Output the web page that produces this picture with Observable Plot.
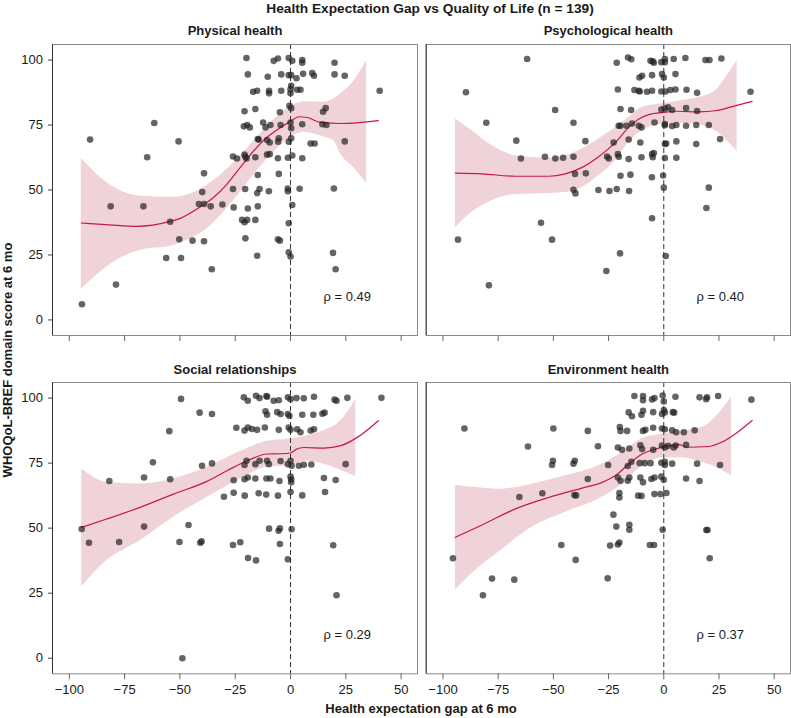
<!DOCTYPE html>
<html><head><meta charset="utf-8">
<script src="https://cdn.jsdelivr.net/npm/d3@7"></script>
<script src="https://cdn.jsdelivr.net/npm/@observablehq/plot@0.6"></script>
<style>
body{margin:0;background:#fff;font-family:"Liberation Sans",Arial,Helvetica,sans-serif;color:#1a1a1a}
#wrap{position:relative;width:791px;height:718px;overflow:hidden;background:#fff}
.abs{position:absolute}
#title{left:130px;width:600px;top:0;height:17px;line-height:17px;text-align:center;font-weight:bold;font-size:13.7px}
#xtitle{left:0;width:842px;top:701px;height:16px;line-height:16px;text-align:center;font-weight:bold;font-size:13px}
#ytitle{left:8px;top:360px;width:300px;height:16px;line-height:16px;margin-left:-150px;margin-top:-8px;text-align:center;font-weight:bold;font-size:13px;transform:rotate(-90deg)}
</style></head>
<body><div id="wrap">
<div id="title" class="abs">Health Expectation Gap vs Quality of Life (n = 139)</div>
<div id="xtitle" class="abs">Health expectation gap at 6 mo</div>
<div id="ytitle" class="abs">WHOQoL-BREF domain score at 6 mo</div>
</div>
<script>
// ---------- data ----------
const xTicks = [-100, -75, -50, -25, 0, 25, 50];
const yTicks = [0, 25, 50, 75, 100];
const XDOM = [-107.6, 57.4];
const YDOM = [-6, 106];

const physRho = 0.49, psychRho = 0.40, socRho = 0.29, envRho = 0.37;

const physPts = [[-19.9,100.8],[-7.6,99.7],[-5.7,100.6],[-0.8,100.8],[0.8,99.7],[5.3,100],[5.3,99],[19.9,99],
[-19.3,94.5],[-10.3,93.6],[-4.2,94.5],[-0.8,94.2],[0.3,94.2],[2.7,93],[5.7,94.7],[9.8,95],[10.6,94],[19.9,94.5],[24.5,94],
[-16.9,87.8],[-15.1,88.2],[-9.7,88.2],[-9.7,87.2],[-4.2,88.2],[0,88.8],[0,87.2],[0.3,90.1],[3,88.6],[4.5,88.6],[40.3,88.2],
[-20.8,80.3],[-15.9,81.2],[-4.8,79.9],[-0.5,82.4],[0.3,81.5],[14.7,80.1],[15.9,81.5],
[-61.6,75.8],[-90.6,69.4],[-50.6,68.7],
[-21.1,74.5],[-19.6,75],[-18.4,74.1],[-12.4,76],[-11.3,74.1],[-9.1,75],[-4.5,75],[0,76],[0.3,73.8],[5.3,75.3],[14.4,75.3],[16.2,75],
[-14.8,69.6],[-14.4,69.4],[-10.6,69.2],[-9.4,68.3],[-5.6,68.6],[-5.3,69.9],[-0.8,68.6],[0.3,69.9],[9.1,67.9],[10.9,67.9],[24.5,68.7],
[-64.8,62.6],[-26,62.9],[-24.2,62.1],[-20.8,63.6],[-20.4,62.8],[-19.9,62.1],[-15.9,62.6],[-10.6,63.6],[-9.4,63.8],[-5.7,62.2],[-1.2,62.4],[0.8,63.3],[5.3,62.2],
[-39.1,56.4],[-14.8,55.8],[-5.3,56.2],
[-39.9,49.2],[-26,50.4],[-20.5,50.4],[-15.1,48.8],[-14,50.4],[-9.8,49.5],[-1.2,50.6],[-1.2,49.5],[4.1,50.5],[19.6,50.6],
[-81.3,43.7],[-66.5,43.7],[-41.4,44.6],[-39.1,44.6],[-36.1,43.7],[-30.8,44.4],[-25.7,43.3],[-19.3,42.9],[-14.8,43.7],[0.8,44.2],
[-54.4,37.8],[-21.9,38.5],[-20.8,37.6],[-19.6,38.5],[-15.9,38.5],[-0.8,37.2],
[-50.3,31],[-44.3,30.5],[-39.1,30.3],[-20.4,31.4],[-5.7,31],[-4.8,30.5],
[-56.2,23.8],[-49.5,23.8],[-15.1,24.7],[-0.8,26],[0,24.4],[19.2,25.8],
[20.4,19.5],[-35.6,19.5],[-78.9,13.6],[-94.3,6]];
const physFit = [[-94.6,37.3],[-82,36.6],[-69.5,36],[-54.4,37.9],[-49.8,39.1],[-42.3,42.7],[-34.7,47.2],[-28.7,52.3],[-22.7,58.7],[-16.6,65.1],[-10.6,70.3],[-4.5,74.1],[0,76.4],[3.8,78.2],[7.6,77.9],[13.6,76],[22.7,75.6],[39.7,76.7]];
const physBand = [[-94.6,11.7,62.2],[-86.1,18.3,54.9],[-77,23.7,49.7],[-68,26.7,47.6],[-52.9,28.6,47.2],[-45.3,31.2,48.5],[-37.8,35,51.7],[-30.2,41.4,56.8],[-22.7,49.1,63.2],[-15.1,57.4,70.3],[-7.6,64.5,76.9],[0,70.3,82.1],[6,72.2,84],[15.1,70.3,83.8],[19.6,69,85],[22.7,63.8,87],[28.7,58.5,92],[34.4,52.6,99.7]];

const psychPts = [[-61.9,100.4],[-21.3,99],[-16.2,101],[-14.7,100.3],[-6,99.7],[-5,99.5],[-4.5,99],[-1.1,99.2],[0.5,99.2],[0.5,100.4],[4.5,100.4],[9.8,100.8],[18.9,100],[20.7,100],[26.1,100.6],
[-11,93.3],[-9.8,94],[-5.3,94.2],[-0.8,94.6],[0,93.3],[5.3,94.6],
[-89.6,87.6],[-20.8,88.7],[-13.3,88.5],[-11.3,88.2],[-10.9,87.9],[-7.6,87.8],[-5.3,88.2],[-1.1,87.9],[0.8,87.9],[3,88.5],[5.3,88.7],[10.3,88.6],[15.1,87.4],[39.3,87.8],
[-49.2,80.8],[-19.6,81.2],[-14.8,80.8],[-1.1,81],[0.5,81.4],[2,81.8],[3.8,80.8],[10.1,81.5],[15.1,80.4],
[-80.4,75.9],[-40.9,75.9],[-20.4,74.7],[-19.6,74.7],[-16.9,74.7],[-14.4,75.6],[-11.3,74.7],[-10.1,74.1],[-4.2,76],[0.5,75.4],[0.5,74.9],[3.8,74.6],[5.7,75],[10.1,74.7],[14.7,75],[20.4,75],
[-66.8,69],[-35.5,68.8],[-22.7,68.3],[-15.9,69.4],[-10.6,68.3],[0.5,67.7],[1.1,67.9],[5.7,68.7],[14.7,67.7],[25.5,69.6],
[-64.7,62.1],[-53.8,62.8],[-49.1,62.1],[-45.6,62.4],[-40.9,62.8],[-25.7,62.9],[-24.9,62.1],[-20.8,63.8],[-20.4,62.8],[-15.9,61.9],[-10.1,62.6],[-5.3,63.8],[-4.5,64.2],[-5,62.6],[0.5,62.3],[5.7,62.4],
[-40.2,56.2],[-35.3,56.4],[-19.6,55.5],[-15.1,55.9],[-5.4,54.9],[-0.3,55.6],
[-40.9,50.1],[-40,48.7],[-29.6,50],[-24.6,49.6],[-21.3,50.4],[-15.7,49.6],[0,50.9],[20.4,50.9],
[19.3,43.1],[-5.3,39.1],[-55.6,37.4],[-93.2,30.9],[-50.6,30.9],[-19.8,25.6],[0.9,24.6],[-26,18.8],[-79.2,13.3]];
const psychFit = [[-94.4,56.5],[-82.3,56.2],[-67.2,55.3],[-52.1,55.3],[-44.6,56.2],[-37,58.7],[-29.5,62.8],[-21.9,68.3],[-15.9,74.1],[-11.3,77.3],[-6.8,79],[0,79.9],[5.3,80.3],[15.9,80.1],[23.4,80.5],[31,82.1],[40,84.1]];
const psychBand = [[-94.4,35.4,77.3],[-86.9,41.4,72.8],[-77.8,45.9,67.1],[-67.2,48.2,63.2],[-52.1,48.7,62.3],[-44.6,49,63.2],[-37,51,65.8],[-29.5,55.5,69.6],[-21.9,61.3,74.1],[-15.9,68.3,77.9],[-9.8,72.8,81.8],[0,75.4,83.3],[8.3,75.6,84.4],[15.9,75.1,85.6],[23.4,72.8,88.2],[28.7,69,94],[33.2,64.9,99.7]];

const socPts = [[-49.5,99.7],[-21.1,100.3],[-19.3,99],[-15.6,100.9],[-14,100],[-10.9,100.8],[-10.6,100.5],[-7.6,99],[-5.3,99.2],[-1.2,100.3],[0,99.6],[2.7,100],[6,99.9],[10.6,100.5],[19.9,99.4],[20.8,99],[25.7,100.1],[41.1,100.1],
[-41.1,94.4],[-35.5,93.9],[-11.3,94.9],[-10.6,93.6],[-6,94.6],[-4.5,93.9],[-1.2,93.9],[-0.5,93.1],[5.3,93.6],[10.3,93.6],[14.4,94],[15.4,94.4],
[-54.8,87.3],[-24.5,88.6],[-20.8,87.5],[-19.3,88.7],[-17.4,88.1],[-15.1,87.8],[-11.6,88.7],[-5.3,87.8],[-0.8,88.7],[0,87.8],[3,88],[4.5,86.9],[9.1,87.5],[10.6,88],
[-62.2,75.3],[-40,74],[-35.5,74.9],[-20.8,74.3],[-19.9,75.9],[-15.9,74.6],[-14,75.9],[-10.6,75.9],[-9.8,74.6],[-4.5,75.8],[-1.2,74.6],[0,75.9],[0.5,74],[3.8,74],[6,74.4],[9.4,74.5],[24.9,74.6],
[-81.9,68.1],[-66.2,69.5],[-54.4,68.8],[-25.7,68.4],[-20.8,68.8],[-19.3,69.5],[-15.9,69.1],[-10.9,69.1],[-9.1,69.1],[-5,68.1],[0,69.8],[0.3,68.8],[0.3,67.6],[15.1,69.3],[20.4,68.5],
[-30.1,62.1],[-25.7,63.6],[-20.7,62.5],[-14.4,63.4],[-11,62.9],[-5.7,62.5],[0,63.9],[5.3,62.6],[15.6,63.9],
[-94.4,49.7],[-66.2,50.6],[-46.1,51.2],[-9.7,49.8],[-5.4,49],[-4.8,49.9],[0.5,49.6],
[-91.1,44.4],[-77.5,44.7],[-50.2,44.7],[-40.8,44.4],[-40.2,44.9],[-26,43.5],[-22.7,44.6],[-4.8,43.9],[19.3,43.4],
[-19.2,38.5],[-15.6,37.6],[-1.2,38],[20.8,24.2],[-48.9,0]];
const socFit = [[-94.4,50.3],[-83.1,53.5],[-68,58],[-52.9,63.1],[-37.8,68],[-28.7,72.1],[-19.6,75.9],[-10.6,78.5],[-4.5,78.6],[0,78.9],[2.5,80.3],[6,81],[15.1,80.8],[22.7,81.7],[30.2,84.9],[39.7,91.3]];
const socBand = [[-94.4,27.5,72.7],[-83.1,37.5,67.6],[-68,45.2,67],[-52.9,54.2,68.9],[-37.8,61.8,73.4],[-22.7,68.9,79.5],[-10.6,73.4,83.4],[0,74,84.3],[7.6,75.7,85.5],[15.1,74.6,87.5],[22.7,72.3,91.3],[29.5,69.9,99.6]];

const envPts = [[-13.3,100.8],[-9.4,100.8],[-9.4,99.2],[-5.3,99.5],[-4.2,100],[-0.5,101],[0,98.7],[5.3,100.5],[16.2,100.3],[19.2,99.6],[19.6,100.3],[24.6,100.8],[39.7,99.4],
[-15.9,94.5],[-14.4,93],[-10.1,93.6],[-9.4,95.1],[-4.8,94.6],[-0.8,93.9],[0,95.4],[0.5,94.5],[4.1,94.6],[4.7,94.4],
[-90.3,88.3],[-50,88.3],[-34.4,87.4],[-19.9,88.9],[-19.6,87.4],[-16.6,87.4],[-9.4,87.4],[-8.3,87.8],[-4.8,88.6],[-0.8,88.3],[0.5,88],[3.8,87.6],[5.6,86.9],[9.1,86.9],[14,87.6],
[-61.5,81.4],[-29.8,81.5],[-20.8,81],[-18.9,80.1],[-15.6,80.6],[-9.8,80.4],[-10.6,81.9],[-4.8,80.1],[-0.8,81.8],[0.5,81],[2,81.7],[4.5,81],[5.4,81.8],[10.1,82],
[-50.2,75.9],[-50.6,74.3],[-40.9,74.8],[-40.3,75.9],[-25.2,74.3],[-16.3,73.9],[-14.7,75.5],[-10.9,75],[-8.6,75],[-6,75],[-1.1,75.1],[0.5,75.5],[0.5,74.3],[3.8,74.8],[15.1,74.8],[25.5,74.3],
[-34.4,68.9],[-20.8,69.5],[-19.6,68.2],[-15.6,69.5],[-16.3,68.2],[-10.6,69.5],[-9.4,67.6],[-5.6,68.9],[-4.2,69.5],[-1.1,69.8],[0,68.6],[10.1,69.1],[16.2,68.1],
[-65.4,62],[-55,63.4],[-40.5,62.7],[-39.7,62.6],[-20.1,63.5],[-20.1,61.8],[-11.6,62.5],[-10.1,62.4],[-4.2,63.1],[-1.5,63.1],[1.2,63.5],
[-22.8,55.2],[-21.5,50.6],[-15.6,51.3],[-15.6,49.4],[-0.5,49.4],[19.3,49.3],[19.8,49.3],
[-46.4,43.5],[-24.3,43.3],[-20.8,43.7],[-20.1,44.5],[-6.3,43.5],[-4.4,43.5],
[-95.5,38.4],[-39.9,37.8],[20.8,38.4],
[-77.8,30.6],[-67.7,30.2],[-25.4,30.7],[-81.9,24.2]];
const envFit = [[-94.4,46.5],[-82.3,51.2],[-67.2,57.4],[-52.1,61.8],[-37,65.4],[-27.9,67.6],[-21.9,70.2],[-15.9,74.6],[-9.8,78.5],[-3.8,80.4],[2.3,81.7],[6.8,82.1],[10.6,81.1],[20.4,81.4],[26.4,83.1],[32.5,86.3],[40,91.4]];
const envBand = [[-94.4,26.2,66.5],[-85.3,33.7,65.6],[-74.8,40.7,65],[-59.7,50.3,66.9],[-44.6,56.1,70.1],[-29.5,61.2,74],[-18.9,66.8,79.1],[-9.8,73.9,84.4],[0,77.1,86.2],[8.3,77.1,87.4],[17.4,75.2,88.7],[23.4,73.5,92.6],[30.7,70.1,100.3]];

// ---------- layout ----------
const FONT = '"Liberation Sans", Arial, Helvetica, sans-serif';
const panels = [
  {title: "Physical health",      pts: physPts,  fit: physFit,  band: physBand,  rho: physRho,  left: 0,   top: 20,  width: 421, height: 327, mL: 52,  mR: 4, mT: 24, mB: 12,   showX: false, showY: true,  tdy: -14},
  {title: "Psychological health", pts: psychPts, fit: psychFit, band: psychBand, rho: psychRho, left: 421, top: 20,  width: 370, height: 327, mL: 4.7, mR: 1, mT: 24, mB: 12,   showX: false, showY: false, tdy: -14},
  {title: "Social relationships", pts: socPts,   fit: socFit,   band: socBand,   rho: socRho,   left: 0,   top: 358, width: 421, height: 344, mL: 52,  mR: 4, mT: 24, mB: 28.7, showX: true,  showY: true,  tdy: -12.5},
  {title: "Environment health",   pts: envPts,   fit: envFit,   band: envBand,   rho: envRho,   left: 421, top: 358, width: 370, height: 344, mL: 4.7, mR: 1, mT: 24, mB: 28.7, showX: true,  showY: false, tdy: -12.5}
];

const wrap = document.getElementById("wrap");
const fmtRho = d3.format(".2f");

for (const p of panels) {
  const marks = [
    Plot.areaY(p.band, {x: d => d[0], y1: d => d[1], y2: d => d[2], fill: "#f0d3d9", curve: "monotone-x"}),
    Plot.ruleX([0], {stroke: "#333", strokeWidth: 1, strokeDasharray: "5,3"}),
    Plot.line(p.fit, {x: d => d[0], y: d => d[1], stroke: "#c8174f", strokeWidth: 1.2, curve: "monotone-x"}),
    Plot.dot(p.pts, {x: d => d[0], y: d => d[1], r: 3.3, fill: "#222", fillOpacity: 0.7, stroke: "none"}),
    Plot.frame({stroke: "#8a8a8a"}),
    Plot.ruleX([XDOM[0]], {stroke: "#333"}),
    Plot.axisX({ticks: xTicks, tickSize: 6, tickPadding: 5, stroke: "#666", fill: "#1a1a1a", fontSize: 13,
                tickFormat: p.showX ? undefined : () => "", label: null}),
    Plot.text([p.title], {frameAnchor: "top", lineAnchor: "middle", dy: p.tdy, fontWeight: "bold", fontSize: 13, fill: "#1a1a1a"}),
    Plot.text([p.rho], {text: d => `ρ = ${fmtRho(d)}`, frameAnchor: "bottom-right", lineAnchor: "middle", textAnchor: "start", dx: -94, dy: -39, fontSize: 13, fill: "#1a1a1a"})
  ];
  if (p.showY) marks.push(Plot.axisY({ticks: yTicks, tickSize: 4, tickPadding: 5.5, stroke: "#444", fill: "#1a1a1a", fontSize: 13, label: null}));
  const chart = Plot.plot({
    width: p.width, height: p.height,
    marginLeft: p.mL, marginRight: p.mR, marginTop: p.mT, marginBottom: p.mB,
    style: {fontFamily: FONT, fontSize: "13px", color: "#1a1a1a", background: "transparent", overflow: "visible"},
    x: {domain: XDOM},
    y: p.showY ? {domain: YDOM} : {domain: YDOM, axis: null},
    marks
  });
  chart.style.position = "absolute";
  chart.style.left = p.left + "px";
  chart.style.top = p.top + "px";
  wrap.appendChild(chart);
}
</script>
</body></html>
